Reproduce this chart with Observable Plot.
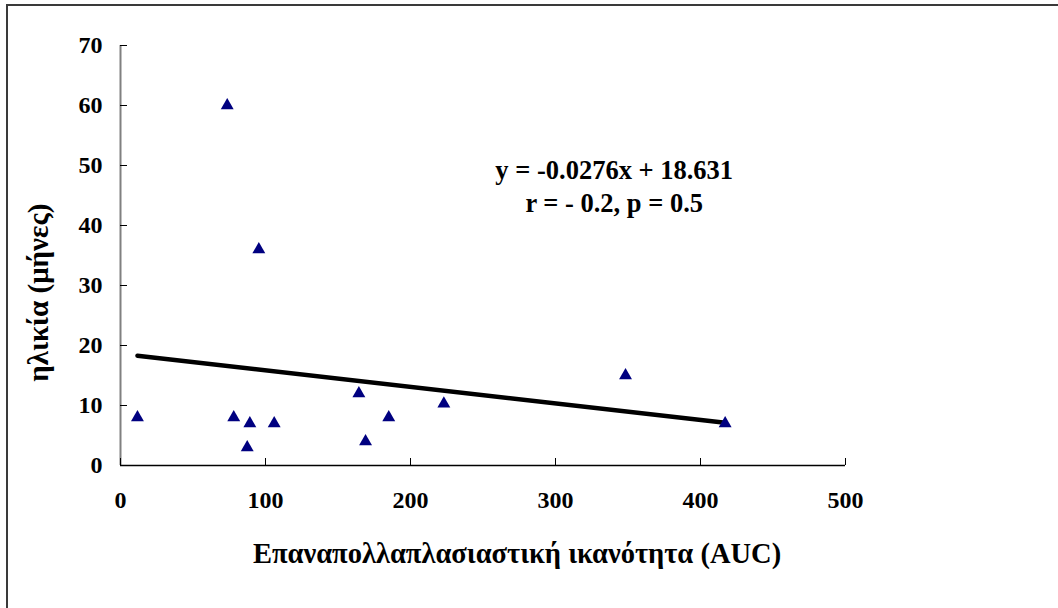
<!DOCTYPE html>
<html>
<head>
<meta charset="utf-8">
<script src="https://cdn.jsdelivr.net/npm/d3@7"></script>
<script src="https://cdn.jsdelivr.net/npm/@observablehq/plot@0.6"></script>
<style>
  html, body { margin: 0; padding: 0; background: #fff; overflow: hidden; }
  #wrap { position: relative; width: 1058px; height: 608px; }
  #frame { position: absolute; left: 6px; top: 4px; width: 1200px; height: 800px;
           border-top: 2px solid #3a3a3a; border-left: 2px solid #3a3a3a; pointer-events: none; }
  svg { display: block; }
  svg, svg text { font-family: "Liberation Serif", "Times New Roman", serif !important; font-weight: bold; }
</style>
</head>
<body>
<div id="wrap"><div id="frame"></div></div>
<script>
// Data
const aucValues = [11.7, 73.6, 78.1, 87.4, 89.2, 95.4, 106, 164.4, 169, 185, 223, 348.3, 417];
const ageMonths = [8, 60, 8, 3, 7, 36, 7, 12, 4, 8, 10.3, 15, 7];
const xTicks = [0, 100, 200, 300, 400, 500];
const yTicks = [0, 10, 20, 30, 40, 50, 60, 70];
const regSlope = -0.0276;
const regIntercept = 18.631;
const regRangeX = [11.7, 417];
const xTitle = "Επαναπολλαπλασιαστική ικανότητα (AUC)";
const yTitle = "ηλικία (μήνες)";
const eqText = "y = -0.0276x + 18.631\nr = - 0.2, p = 0.5";

const points = aucValues.map((x, i) => ({x, y: ageMonths[i]}));
const regLine = regRangeX.map(x => ({x, y: regSlope * x + regIntercept}));

const chart = Plot.plot({
  width: 1058,
  height: 608,
  marginLeft: 120,
  marginRight: 213,
  marginTop: 45,
  marginBottom: 143,
  style: {background: "transparent", color: "#000"},
  x: {domain: [0, 500]},
  y: {domain: [0, 70]},
  marks: [
    // axis lines
    Plot.ruleX([0], {stroke: "#808080", strokeWidth: 2}),
    Plot.ruleY([0], {stroke: "#000", strokeWidth: 1.5}),
    // inward ticks
    Plot.axisY({ticks: yTicks, tickSize: -7, text: null, label: null, stroke: "#000", strokeOpacity: 1}),
    Plot.axisX({ticks: xTicks, tickSize: -7, text: null, label: null, stroke: "#000", strokeOpacity: 1}),
    // tick labels
    Plot.axisY({ticks: yTicks, tickSize: 0, tickPadding: 18, label: null, fontSize: 24, fill: "#000"}),
    Plot.axisX({ticks: xTicks, tickSize: 0, tickPadding: 25, label: null, fontSize: 24, fill: "#000"}),
    // regression line
    Plot.line(regLine, {x: "x", y: "y", stroke: "#000", strokeWidth: 4.5}),
    // data points
    Plot.dot(points, {x: "x", y: "y", symbol: "triangle", r: 4.8, fill: "#000080", stroke: "none"}),
    // equation annotation
    Plot.text([eqText], {x: 340.5, y: 46.8, text: d => d, fontSize: 26.5, lineHeight: 1.25, fill: "#000", textAnchor: "middle"}),
    // axis titles
    Plot.text([xTitle], {frameAnchor: "bottom", dx: 34, dy: 97, text: d => d, fontSize: 28.5, fill: "#000"}),
    Plot.text([yTitle], {frameAnchor: "left", y: [28.8], dx: -82, rotate: -90, textAnchor: "middle", text: d => d, fontSize: 29, fill: "#000"})
  ]
});
document.getElementById("wrap").insertBefore(chart, document.getElementById("frame"));
chart.style.position = "absolute";
chart.style.left = "0px";
chart.style.top = "0px";
</script>
</body>
</html>
